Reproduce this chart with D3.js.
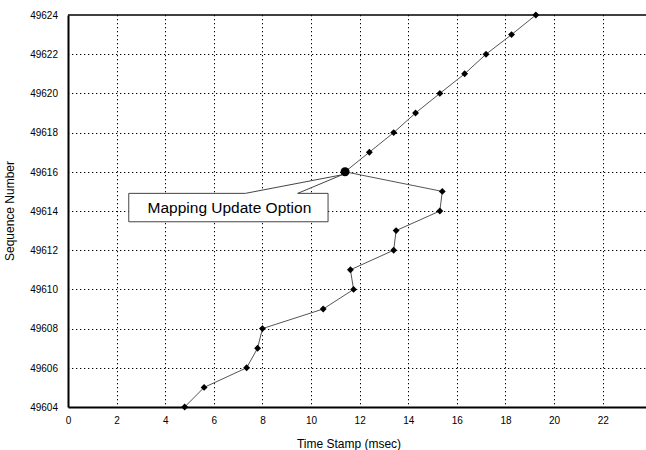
<!DOCTYPE html>
<html>
<head>
<meta charset="utf-8">
<script src="https://cdn.jsdelivr.net/npm/d3@7"></script>
<style>
  body { margin: 0; background: #fff; }
  text { font-family: "Liberation Sans", Arial, sans-serif; fill: #000; }
</style>
</head>
<body>
<script>
var width = 646,
    height = 450;

// data
var timeStamps = [4.8, 5.6, 7.35, 7.8, 8.0, 10.5, 11.75, 11.62, 13.4, 13.5,
                  15.3, 15.4, 11.4, 12.4, 13.4, 14.3, 15.3, 16.32, 17.2, 18.25, 19.25];
var seqNumbers = [49604, 49605, 49606, 49607, 49608, 49609, 49610, 49611, 49612, 49613,
                  49614, 49615, 49616, 49617, 49618, 49619, 49620, 49621, 49622, 49623, 49624];
var xTicks = [0, 2, 4, 6, 8, 10, 12, 14, 16, 18, 20, 22, 24];
var yTicks = [49604, 49606, 49608, 49610, 49612, 49614, 49616, 49618, 49620, 49622, 49624];
var highlightSeq = 49616;
var calloutText = "Mapping Update Option";

var data = timeStamps.map(function(t, i) { return {t: t, s: seqNumbers[i]}; });

var x = d3.scaleLinear().domain([0, 24]).range([68, 651.3]);
var y = d3.scaleLinear().domain([49604, 49624]).range([407, 15]);

var svg = d3.select("body").append("svg")
    .attr("width", width)
    .attr("height", height);

// grid
svg.append("g").selectAll("line")
    .data(xTicks.slice(1))
    .enter().append("line")
    .attr("x1", function(d) { return Math.round(x(d)) + 0.5; })
    .attr("x2", function(d) { return Math.round(x(d)) + 0.5; })
    .attr("y1", y(49624))
    .attr("y2", y(49604))
    .attr("stroke", "#000")
    .attr("stroke-width", 1)
    .attr("stroke-dasharray", "1.3,2.7");

svg.append("g").selectAll("line")
    .data(yTicks.slice(1, -1))
    .enter().append("line")
    .attr("x1", x(0))
    .attr("x2", width)
    .attr("y1", function(d) { return Math.round(y(d)) + 0.5; })
    .attr("y2", function(d) { return Math.round(y(d)) + 0.5; })
    .attr("stroke", "#000")
    .attr("stroke-width", 1)
    .attr("stroke-dasharray", "1.3,2.7");

// axes
var xAxis = svg.append("g")
    .attr("transform", "translate(0," + y(49604) + ")")
    .call(d3.axisBottom(x).tickValues(xTicks).tickSize(0).tickPadding(10));
var yAxis = svg.append("g")
    .attr("transform", "translate(" + x(0) + ",0)")
    .call(d3.axisLeft(y).tickValues(yTicks).tickSize(0).tickPadding(10).tickFormat(d3.format("d")));

[xAxis, yAxis].forEach(function(a) {
  a.select(".domain").attr("stroke", "#000").attr("stroke-width", 2);
  a.selectAll("text").attr("font-size", 10).attr("font-family", "Liberation Sans, Arial, sans-serif")
    .attr("fill", "#111");
});

// top frame line
svg.append("line")
    .attr("x1", x(0)).attr("x2", width)
    .attr("y1", y(49624)).attr("y2", y(49624))
    .attr("stroke", "#000").attr("stroke-width", 1.5);

// series line
svg.append("path")
    .datum(data)
    .attr("fill", "none")
    .attr("stroke", "#555")
    .attr("stroke-width", 1)
    .attr("d", d3.line().x(function(d) { return x(d.t); }).y(function(d) { return y(d.s); }));

// markers
svg.append("g").selectAll("path")
    .data(data.filter(function(d) { return d.s !== highlightSeq; }))
    .enter().append("path")
    .attr("transform", function(d) { return "translate(" + x(d.t) + "," + y(d.s) + ")"; })
    .attr("d", d3.symbol().type(d3.symbolDiamond2).size(30))
    .attr("fill", "#000");

var hp = data.filter(function(d) { return d.s === highlightSeq; })[0];

// callout (box in data units, pointer to the highlighted point)
var bx0 = x(2.5), bx1 = x(10.7), by0 = y(49614.9), by1 = y(49613.45);
var px = x(hp.t), py = y(hp.s);
var w0 = x(7.3), w1 = x(9.45);
svg.append("path")
    .attr("d", "M" + bx0 + "," + by0 + "L" + w0 + "," + by0 + "L" + (px - 3) + "," + (py + 3) +
               "L" + w1 + "," + by0 + "L" + bx1 + "," + by0 + "L" + bx1 + "," + by1 +
               "L" + bx0 + "," + by1 + "Z")
    .attr("fill", "#fff")
    .attr("stroke", "#444")
    .attr("stroke-width", 1);

svg.append("text")
    .attr("x", (bx0 + bx1) / 2 + 1)
    .attr("y", (by0 + by1) / 2 + 5.5)
    .attr("text-anchor", "middle")
    .attr("font-size", 15.5)
    .text(calloutText);

svg.append("circle")
    .attr("cx", px).attr("cy", py)
    .attr("r", 4.5)
    .attr("fill", "#000");

// axis titles
svg.append("text")
    .attr("x", 349)
    .attr("y", 448)
    .attr("text-anchor", "middle")
    .attr("font-size", 12)
    .text("Time Stamp (msec)");

svg.append("text")
    .attr("transform", "translate(14," + 211 + ")rotate(-90)")
    .attr("text-anchor", "middle")
    .attr("font-size", 12)
    .text("Sequence Number");
</script>
</body>
</html>
